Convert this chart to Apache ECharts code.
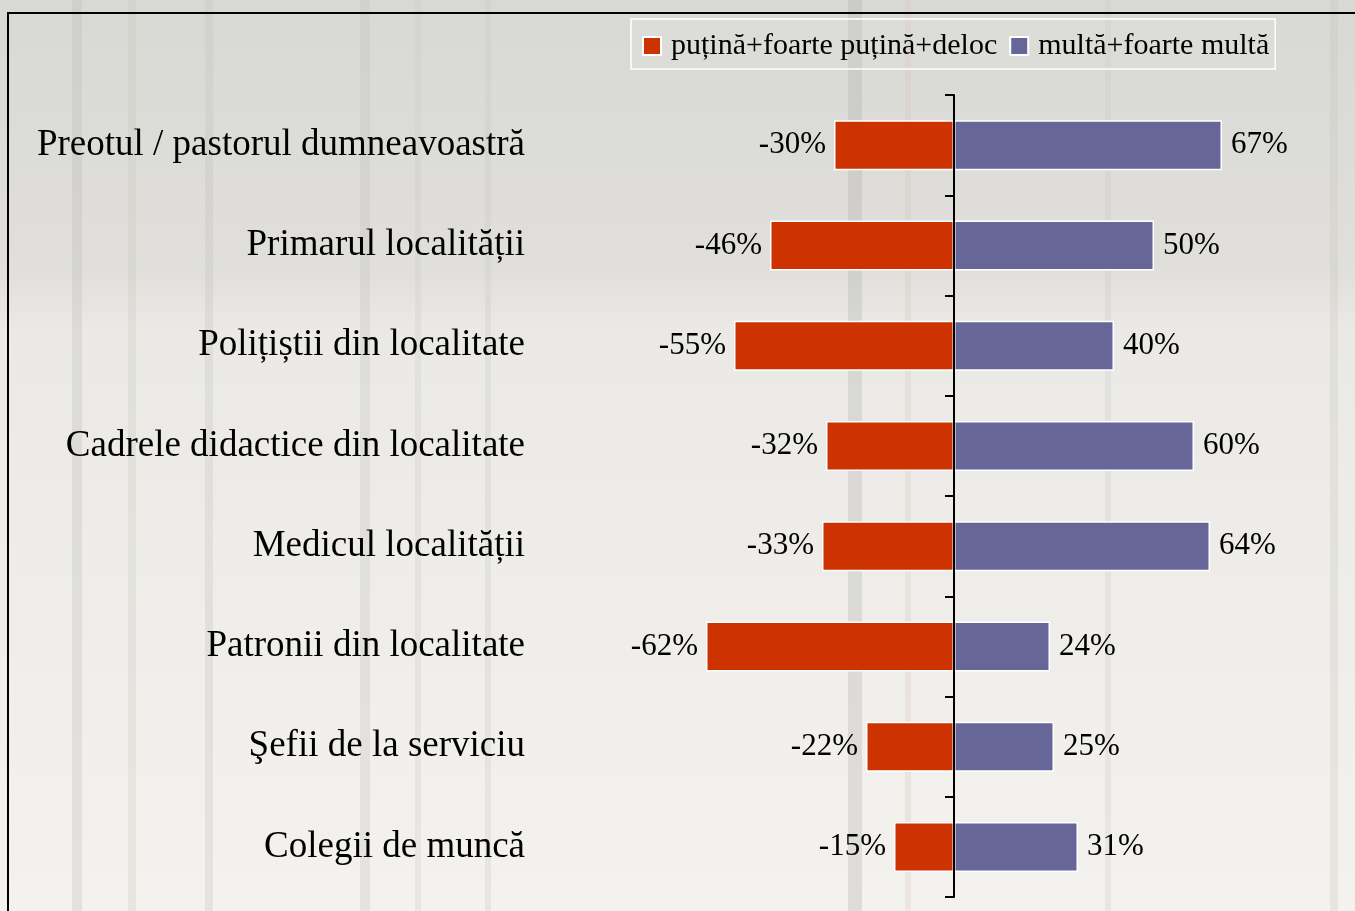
<!DOCTYPE html>
<html>
<head>
<meta charset="utf-8">
<script src="https://cdn.jsdelivr.net/npm/echarts@6/dist/echarts.min.js"></script>
<style>
  html, body { margin: 0; padding: 0; }
  #chart { width: 1355px; height: 911px; }
</style>
</head>
<body>
<div id="chart"></div>
<script>
const categories = [
  "Preotul / pastorul dumneavoastră",
  "Primarul localității",
  "Polițiștii din localitate",
  "Cadrele didactice din localitate",
  "Medicul localității",
  "Patronii din localitate",
  "Şefii de la serviciu",
  "Colegii de muncă"
];
const seriesNames = ["puțină+foarte puțină+deloc", "multă+foarte multă"];
const lowValues = [-30, -46, -55, -32, -33, -62, -22, -15];
const highValues = [67, 50, 40, 60, 64, 24, 25, 31];

const font = "'Liberation Serif', 'Times New Roman', serif";

// fundal decorativ: dungi slabe
const stripes = [
  [72, 10, "#b8b8b4"], [128, 8, "#c4c4c0"], [205, 8, "#c0c0bc"], [360, 10, "#bdbdb9"],
  [415, 6, "#c8c8c4"], [485, 6, "#c6c6c2"], [848, 14, "#a8a8a4"], [905, 6, "#d8c4c0"],
  [1105, 6, "#c8c8c4"], [1330, 8, "#c4c4c0"]
].map(([x, w, c]) => ({
  type: "rect", silent: true, z: -10,
  shape: { x, y: 0, width: w, height: 911 },
  style: { fill: c, opacity: 0.28 }
}));

const chart = echarts.init(document.getElementById("chart"));
chart.setOption({
  backgroundColor: {
    type: "linear", x: 0, y: 0, x2: 0, y2: 1,
    colorStops: [
      { offset: 0, color: "#d8d8d4" },
      { offset: 0.3, color: "#e0dfdb" },
      { offset: 0.36, color: "#eae9e5" },
      { offset: 1, color: "#f4f2ee" }
    ]
  },
  animation: false,
  textStyle: { fontFamily: font },
  graphic: stripes.concat([
    {
      type: "rect", silent: true, z: -5,
      shape: { x: 8, y: 13, width: 1500, height: 1000 },
      style: { fill: null, stroke: "#000", lineWidth: 2 }
    }
  ]),
  legend: {
    data: seriesNames,
    icon: "rect",
    left: 631,
    top: 19,
    padding: [12, 6, 8, 11],
    itemGap: 12,
    itemWidth: 18,
    itemHeight: 18,
    borderColor: "#fff",
    borderWidth: 1.5,
    backgroundColor: "rgba(255,255,255,0.08)",
    textStyle: { fontFamily: font, fontSize: 30, color: "#000", padding: [0, 0, 0, 5] }
  },
  grid: { left: 554, right: 1, top: 95, bottom: 14 },
  xAxis: {
    type: "value",
    min: -100,
    max: 100,
    show: false
  },
  yAxis: [
    {
      type: "category",
      data: categories,
      inverse: true,
      position: "left",
      axisLine: { show: false, onZero: false },
      axisTick: { show: false },
      axisLabel: { margin: 29, fontFamily: font, fontSize: 37, color: "#000" }
    },
    {
      type: "category",
      data: categories,
      inverse: true,
      position: "left",
      z: 10,
      axisLine: { show: true, onZero: true, lineStyle: { color: "#000", width: 2 } },
      axisTick: { show: true, length: 9, lineStyle: { color: "#000", width: 2 } },
      axisLabel: { show: false }
    }
  ],
  series: [
    {
      name: seriesNames[0],
      type: "bar",
      stack: "total",
      yAxisIndex: 1,
      data: lowValues,
      barWidth: 50,
      itemStyle: { color: "#cc3300", borderColor: "#fff", borderWidth: 1.5 },
      label: {
        show: true, position: "left", distance: 8,
        fontFamily: font, fontSize: 31, color: "#000",
        formatter: (p) => p.value + "%"
      }
    },
    {
      name: seriesNames[1],
      type: "bar",
      stack: "total",
      yAxisIndex: 1,
      data: highValues,
      barWidth: 50,
      itemStyle: { color: "#666699", borderColor: "#fff", borderWidth: 1.5 },
      label: {
        show: true, position: "right", distance: 9,
        fontFamily: font, fontSize: 31, color: "#000",
        formatter: (p) => p.value + "%"
      }
    }
  ]
});
</script>
</body>
</html>
